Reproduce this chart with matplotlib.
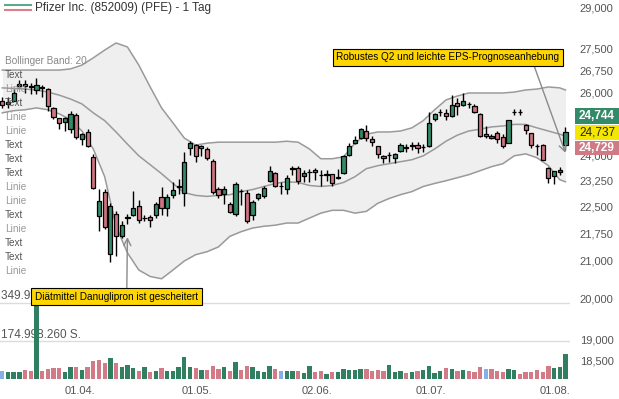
import matplotlib
matplotlib.use("Agg")
import matplotlib.pyplot as plt
from matplotlib.lines import Line2D
from matplotlib.patches import Rectangle
from matplotlib.ticker import FixedLocator, FuncFormatter, NullLocator

plt.rcParams['font.family'] = ['Liberation Sans', 'DejaVu Sans']

# -------------------------
# Kursdaten (EUR), ein Eintrag pro Handelstag
# -------------------------
opens = [25.74, 25.64, 25.75, 26.23, 26.31, 26.22, 26.10, 26.20, 26.12, 25.50,
         25.18, 25.05, 24.84, 25.29, 24.51, 24.74, 23.96, 22.22, 22.92, 21.18,
         22.29, 21.66, 22.17, 22.25, 22.52, 22.18, 22.19, 22.25, 22.78, 22.47,
         22.84, 23.06, 22.90, 24.23, 24.33, 24.29, 24.21, 23.84, 23.02, 22.86,
         22.56, 22.29, 22.95, 22.90, 22.26, 22.73, 22.81, 23.25, 23.48, 23.09,
         23.02, 23.61, 23.63, 23.40, 23.50, 23.58, 23.42, 23.43, 23.45, 23.33,
         23.48, 24.01, 24.38, 24.56, 24.77, 24.51, 24.29, 23.99, 24.03, 23.93,
         24.16, 24.25, 24.31, 24.34, 24.26, 24.31, 25.15, 25.37, 25.34, 25.26,
         25.66, 25.61, 25.63, 25.58, 25.31, 24.69, 24.55, 24.72, 24.59, 24.41,
         25.37, 25.38, 24.96, 24.70, 24.30, 24.33, 23.63, 23.38, 23.51, 24.34]
highs = [25.87, 25.87, 26.12, 26.42, 26.43, 26.32, 26.49, 26.27, 26.16, 25.55,
         25.20, 25.22, 25.40, 25.34, 24.72, 24.82, 24.06, 23.02, 23.02, 22.59,
         22.36, 22.08, 22.28, 22.95, 22.68, 22.27, 22.27, 22.64, 23.06, 22.87,
         23.22, 23.31, 24.13, 24.46, 24.36, 24.33, 24.26, 23.91, 23.06, 23.10,
         22.64, 23.20, 23.02, 22.97, 22.68, 22.90, 23.08, 23.70, 23.51, 23.20,
         23.41, 23.68, 23.68, 23.56, 23.61, 23.63, 23.56, 23.56, 23.46, 23.61,
         24.01, 24.41, 24.61, 24.87, 24.95, 24.60, 24.31, 24.03, 24.11, 24.09,
         24.41, 24.36, 24.43, 24.43, 24.36, 25.37, 25.36, 25.47, 25.47, 25.93,
         25.82, 26.01, 25.71, 25.64, 25.36, 24.93, 24.67, 24.78, 24.67, 25.13,
         25.47, 25.47, 24.98, 24.72, 24.36, 24.36, 23.66, 23.55, 23.67, 24.89]
lows = [25.51, 25.51, 25.72, 26.17, 25.99, 25.97, 25.96, 25.88, 25.40, 25.15,
        24.82, 24.77, 24.72, 24.51, 24.33, 24.26, 23.00, 21.80, 21.87, 20.97,
        21.12, 21.62, 22.00, 22.22, 22.03, 22.10, 21.91, 22.17, 22.26, 22.22,
        22.73, 22.87, 22.50, 24.01, 23.81, 23.99, 23.86, 22.87, 22.73, 22.56,
        22.31, 22.22, 22.54, 22.03, 22.12, 22.68, 22.73, 23.20, 23.06, 22.87,
        22.87, 23.41, 23.14, 23.20, 23.20, 23.26, 23.10, 23.23, 23.10, 23.30,
        23.46, 23.99, 24.36, 24.51, 24.46, 24.31, 23.93, 23.79, 23.81, 23.79,
        24.13, 24.11, 24.19, 24.09, 24.13, 24.26, 25.09, 25.26, 25.13, 25.22,
        25.29, 25.58, 25.50, 25.34, 24.57, 24.54, 24.51, 24.41, 24.25, 24.39,
        25.27, 25.27, 24.67, 24.25, 24.01, 23.86, 23.17, 23.14, 23.42, 24.19]
closes = [25.61, 25.71, 26.01, 26.31, 26.23, 26.19, 26.25, 26.17, 25.56, 25.22,
          25.03, 25.18, 25.32, 24.57, 24.67, 24.31, 23.04, 22.66, 21.91, 22.52,
          21.66, 21.97, 22.19, 22.47, 22.11, 22.16, 22.11, 22.56, 22.47, 22.78,
          22.97, 23.08, 23.81, 24.41, 23.99, 24.23, 23.93, 22.93, 22.84, 23.02,
          22.35, 23.14, 22.94, 22.08, 22.64, 22.87, 23.04, 23.54, 23.10, 23.10,
          23.34, 23.63, 23.24, 23.48, 23.51, 23.50, 23.41, 23.44, 23.19, 23.35,
          23.98, 24.31, 24.48, 24.84, 24.56, 24.44, 24.05, 23.93, 24.04, 24.05,
          24.33, 24.26, 24.32, 24.23, 24.27, 25.03, 25.31, 25.38, 25.26, 25.59,
          25.58, 25.75, 25.64, 25.38, 24.62, 24.62, 24.60, 24.51, 24.29, 25.11,
          25.38, 25.37, 24.80, 24.34, 24.31, 23.88, 23.33, 23.53, 23.58, 24.74]
# Umsatz in Mio. Stueck
volumes = [37, 31, 32, 32, 43, 37, 360, 37, 48, 50,
           51, 32, 53, 55, 42, 55, 81, 89, 73, 98,
           75, 55, 63, 51, 37, 55, 32, 37, 51, 37,
           37, 55, 101, 55, 50, 42, 42, 61, 48, 56,
           39, 79, 42, 61, 53, 37, 33, 58, 44, 39,
           37, 37, 37, 26, 58, 33, 37, 25, 34, 31,
           44, 42, 40, 44, 47, 37, 42, 37, 65, 34,
           37, 28, 33, 37, 42, 61, 28, 37, 51, 48,
           37, 40, 36, 30, 56, 47, 48, 36, 34, 47,
           40, 25, 34, 31, 40, 34, 62, 50, 56, 115]

band_idx = list(range(0, 99, 2)) + [99]
band_upper = [26.77, 26.77, 26.77, 26.77, 26.77, 26.77, 26.81, 26.94, 27.19, 27.46,
              27.71, 27.57, 26.94, 26.20, 25.51, 25.03, 24.55, 24.33, 24.39, 24.42,
              24.42, 24.42, 24.42, 24.42, 24.42, 24.45, 24.42, 24.21, 23.91, 23.91,
              23.97, 24.39, 24.67, 24.74, 24.74, 24.77, 24.87, 25.10, 25.45, 25.77,
              25.90, 26.00, 26.00, 26.00, 26.00, 26.03, 26.10, 26.13, 26.20, 26.17,
              26.10]
band_mid = [26.17, 26.15, 26.13, 26.10, 26.03, 25.93, 25.80, 25.64, 25.35, 25.10,
            24.74, 24.36, 24.00, 23.73, 23.46, 23.17, 22.90, 22.82, 22.79, 22.82,
            22.84, 22.93, 22.99, 23.08, 23.17, 23.22, 23.20, 23.11, 23.08, 23.11,
            23.20, 23.37, 23.61, 23.70, 23.76, 23.82, 23.88, 24.00, 24.21, 24.45,
            24.64, 24.77, 24.83, 24.90, 24.93, 24.98, 24.98, 24.87, 24.77, 24.67,
            24.61]
band_lower = [25.35, 25.42, 25.45, 25.51, 25.45, 25.32, 25.13, 24.77, 24.21, 23.37,
              21.94, 21.21, 20.75, 20.58, 20.52, 20.75, 20.99, 21.16, 21.24, 21.37,
              21.66, 21.79, 21.89, 21.94, 21.97, 22.03, 22.03, 22.17, 22.31, 22.39,
              22.39, 22.31, 22.36, 22.59, 22.73, 22.84, 22.93, 23.08, 23.17, 23.25,
              23.34, 23.43, 23.55, 23.67, 23.76, 24.00, 24.06, 23.94, 23.70, 23.28,
              23.22]

price_ticks = [29.0, 27.5, 26.75, 26.0, 24.0, 23.25, 22.5, 21.75, 21.0, 20.0, 19.0, 18.5]
date_pos = [13.7, 34.2, 55.3, 75.3, 97.1]
date_labels = ["01.04.", "01.05.", "02.06.", "01.07.", "01.08."]
vol_levels = [174998260, 349996520]
vol_labels = ["174.998.260 S.", "349.996.520 S."]
legend_items = ["Text", "Linie", "Text", "Linie", "Linie", "Text", "Text", "Text",
                "Linie", "Linie", "Text", "Linie", "Text", "Text", "Linie"]
quote_values = [24.744, 24.737, 24.729]

GREEN = '#338a68'
RED = '#cc7480'
VOL_GREEN = '#2f7f60'
VOL_RED = '#d27a86'
VOL_BLUE = '#86aee8'

W, H = 619, 399
fig = plt.figure(figsize=(W / 100, H / 100), dpi=100)
rect = [0, (H - 379) / H, 570 / W, 379 / H]

# Volumen unten (eigene Achse, wird zuerst gezeichnet)
axv = fig.add_axes(rect)
n = len(closes)
vol_colors = []
for i in range(n):
    if i == 0 or closes[i] == closes[i - 1]:
        vol_colors.append(VOL_BLUE)
    elif closes[i] > closes[i - 1]:
        vol_colors.append(VOL_GREEN)
    else:
        vol_colors.append(VOL_RED)
axv.bar(range(n), [v * 1e6 for v in volumes], width=0.76, color=vol_colors, zorder=3)
axv.set_xlim(-0.4, 99.8)
axv.set_ylim(0, vol_levels[0] * 379 / 38)
for lvl, lab in zip(vol_levels, vol_labels):
    axv.axhline(lvl, color='#dcdcdc', lw=1, zorder=1)
    axv.text(0.002, lvl * 1.012, lab, transform=axv.get_yaxis_transform(),
             fontsize=8.5, color='#555555', va='bottom', ha='left', zorder=2)
axv.axis('off')

# Kurse oben
ax = fig.add_axes(rect, facecolor='none')
ax.set_yscale('log')
ax.set_ylim(18.06, 29.27)
ax.set_xlim(-0.4, 99.8)

ax.fill_between(band_idx, band_lower, band_upper, color='#efefef', lw=0, zorder=1)
for serie in (band_upper, band_mid, band_lower):
    ax.plot(band_idx, serie, color='#9a9a9a', lw=1.1, zorder=2)

for i in range(n):
    o, h, l, c = opens[i], highs[i], lows[i], closes[i]
    ax.vlines(i, l, h, color='black', lw=1.0, zorder=3)
    ax.bar(i, max(abs(c - o), 0.004), bottom=min(o, c), width=0.74,
           color=GREEN if c > o else RED, edgecolor='black', lw=0.9, zorder=4)

for s in ax.spines.values():
    s.set_visible(False)
ax.yaxis.tick_right()
ax.yaxis.set_major_locator(FixedLocator(price_ticks))
ax.yaxis.set_minor_locator(NullLocator())
ax.yaxis.set_major_formatter(FuncFormatter(lambda v, p: f"{v:.3f}".replace('.', ',')))
ax.tick_params(axis='y', length=0, pad=7, labelsize=8, labelcolor='#555555')
ax.set_xticks(date_pos, date_labels)
ax.tick_params(axis='x', length=0, pad=5, labelsize=8, labelcolor='#555555')

# Nachrichten
box = dict(boxstyle='square,pad=0.35', fc='#ffd600', ec='black', lw=0.8)
ax.annotate("Robustes Q2 und leichte EPS-Prognoseanhebung", xy=(99, 24.09),
            xytext=(448, H - 57), textcoords='figure pixels', ha='center', va='center',
            fontsize=7.2, bbox=box, zorder=10,
            arrowprops=dict(arrowstyle='->,head_length=0.7,head_width=0.35', color='#8a8a8a',
                            lw=1, relpos=(0.88, 0), shrinkA=0, shrinkB=0))
ax.annotate("Diätmittel Danuglipron ist gescheitert", xy=(22, 21.64),
            xytext=(116.5, H - 296.5), textcoords='figure pixels', ha='center', va='center',
            fontsize=7.2, bbox=box, zorder=10,
            arrowprops=dict(arrowstyle='->,head_length=0.7,head_width=0.35', color='#8a8a8a',
                            lw=1, relpos=(0.563, 1), shrinkA=0, shrinkB=0))

# Kopfzeile und Legende links
fig.add_artist(Line2D([5 / W, 31 / W], [1 - 5 / H] * 2, color='#5fa88a', lw=1.5))
fig.add_artist(Line2D([5 / W, 31 / W], [1 - 10 / H] * 2, color='#d9808a', lw=1.5))
fig.text(35 / W, 1 - 8 / H, "Pfizer Inc. (852009) (PFE) - 1 Tag", fontsize=8.5,
         color='#333333', va='center')
fig.text(5 / W, 1 - 61 / H, "Bollinger Band: 20", fontsize=7.2, color='#888888', va='center')
for k, item in enumerate(legend_items):
    fig.text(5 / W, 1 - (74.7 + 14 * k) / H, item, fontsize=7.2, va='center',
             color='#555555' if item == "Text" else '#999999')

# Kurs-Boxen rechts
box_rows = [(108, 124, GREEN, 'white', 'bold'),
            (125, 140, '#f3e600', '#222222', 'normal'),
            (141, 155, '#d07a86', 'white', 'bold')]
for val, (y0, y1, fc, tc, fw) in zip(quote_values, box_rows):
    fig.add_artist(Rectangle((575 / W, 1 - y1 / H), 44 / W, (y1 - y0) / H,
                             transform=fig.transFigure, fc=fc, ec='none', zorder=20))
    fig.text(597 / W, 1 - (y0 + y1) / 2 / H, f"{val:.3f}".replace('.', ','),
             fontsize=8.5, color=tc, fontweight=fw, ha='center', va='center', zorder=21)

fig.savefig("out.png", dpi=100)
plt.close(fig)
